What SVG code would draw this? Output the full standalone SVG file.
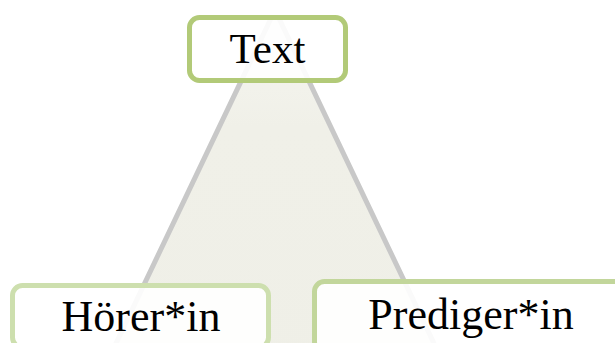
<svg xmlns="http://www.w3.org/2000/svg" width="615" height="343" viewBox="0 0 615 343">
<style>
.lbl{font-family:"Liberation Serif","DejaVu Serif",serif;fill:#000;text-anchor:middle}
.box{fill:#ffffff;fill-opacity:0.9;stroke-width:5}
</style>
<defs>
<linearGradient id="tg" x1="0" y1="0" x2="0" y2="1">
<stop offset="0" stop-color="#f6f6f1"/>
<stop offset="0.3" stop-color="#f0f0e8"/>
<stop offset="1" stop-color="#efefe7"/>
</linearGradient>
<clipPath id="tc"><rect x="0" y="20" width="615" height="400"/></clipPath>
</defs>
<rect width="615" height="343" fill="#ffffff"/>
<g id="triangle" clip-path="url(#tc)">
<polygon points="275,10 461,400 89,400" fill="url(#tg)" stroke="#c8c8c8" stroke-width="5" stroke-linejoin="round"/>
</g>
<g id="connectors"></g>
<g id="node-text">
<rect class="box" x="189.5" y="17.5" width="156" height="63" rx="10" stroke="#b2ca78"/>
<text class="lbl" x="267.5" y="63" font-size="43">Text</text>
</g>
<g id="node-hoerer">
<rect class="box" x="12.5" y="285.5" width="256" height="62" rx="10" stroke="#cddfae"/>
<text class="lbl" x="141" y="331" font-size="44">Hörer*in</text>
</g>
<g id="node-prediger">
<rect class="box" x="314.5" y="281.5" width="320" height="70" rx="10" stroke="#c2d69b"/>
<text class="lbl" x="471" y="329" font-size="44">Prediger*in</text>
</g>
</svg>
